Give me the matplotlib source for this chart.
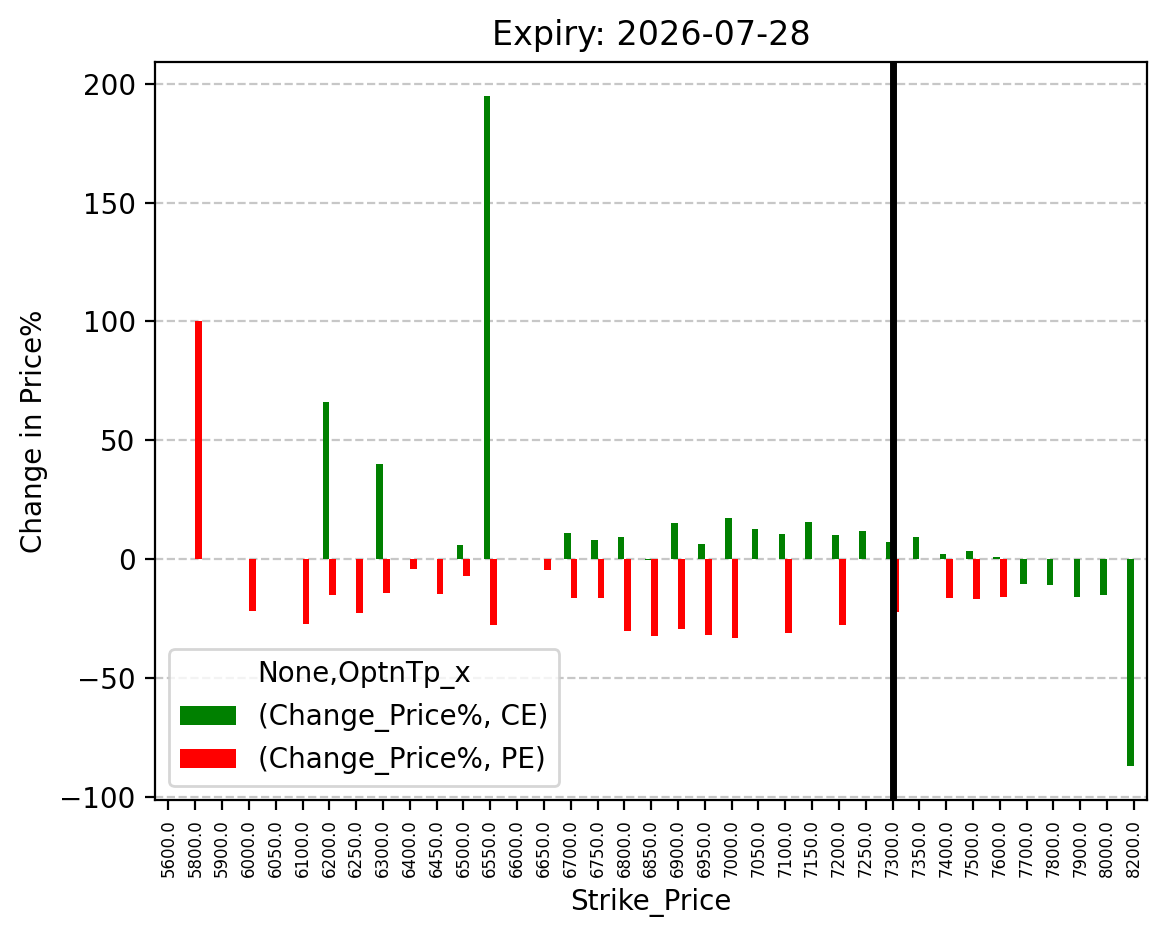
import numpy as np
import matplotlib
matplotlib.use("Agg")
import matplotlib.pyplot as plt

strikes = [5600, 5800, 5900, 6000, 6050, 6100, 6200, 6250, 6300, 6400, 6450, 6500,
           6550, 6600, 6650, 6700, 6750, 6800, 6850, 6900, 6950, 7000, 7050, 7100,
           7150, 7200, 7250, 7300, 7350, 7400, 7500, 7600, 7700, 7800, 7900, 8000, 8200]
nan = np.nan
ce_change = [nan, nan, nan, nan, nan, nan, 66.0, nan, 40.0, nan, nan, 6.1,
             195.0, nan, nan, 10.9, 8.0, 9.2, -0.3, 15.1, 6.3, 17.2, 12.6, 10.5,
             15.5, 10.1, 11.8, 7.1, 9.2, 2.1, 3.4, 0.8, -10.4, -10.8, -15.8, -15.0, -87.1]
pe_change = [nan, 100.0, nan, -21.7, nan, -27.0, -14.8, -22.5, -14.0, -3.9, -14.5, -7.2,
             -27.7, nan, -4.5, -16.2, -16.2, -30.1, -32.2, -29.4, -31.8, -33.1, nan, -31.0,
             nan, -27.6, nan, -22.1, nan, -16.2, -16.7, -15.8, nan, nan, nan, nan, nan]
spot_strike = 7300
tick_labels = [f"{float(s)}" for s in strikes]

fig = plt.figure(figsize=(1166/200, 939/200), dpi=200)
ax = fig.add_axes([0.133, 0.148, 0.851, 0.786])

x = np.arange(len(strikes))
w = 0.25
ax.bar(x - w/2, ce_change, width=w, color="green", label="(Change_Price%, CE)")
ax.bar(x + w/2, pe_change, width=w, color="red", label="(Change_Price%, PE)")
ax.set_xlim(-0.5, len(strikes) - 0.5)
ax.set_xticks(x)
ax.set_xticklabels(tick_labels, rotation=90, fontsize=6)
ax.axvline(strikes.index(spot_strike), color="black", linewidth=2.5)
ax.yaxis.grid(True, linestyle="--", alpha=0.7)
ax.set_axisbelow(True)
ax.set_title("Expiry: 2026-07-28")
ax.set_xlabel("Strike_Price")
ax.set_ylabel("Change in Price%")
ax.legend(title="None,OptnTp_x", loc="lower left")

fig.savefig("out.png", dpi=200)
